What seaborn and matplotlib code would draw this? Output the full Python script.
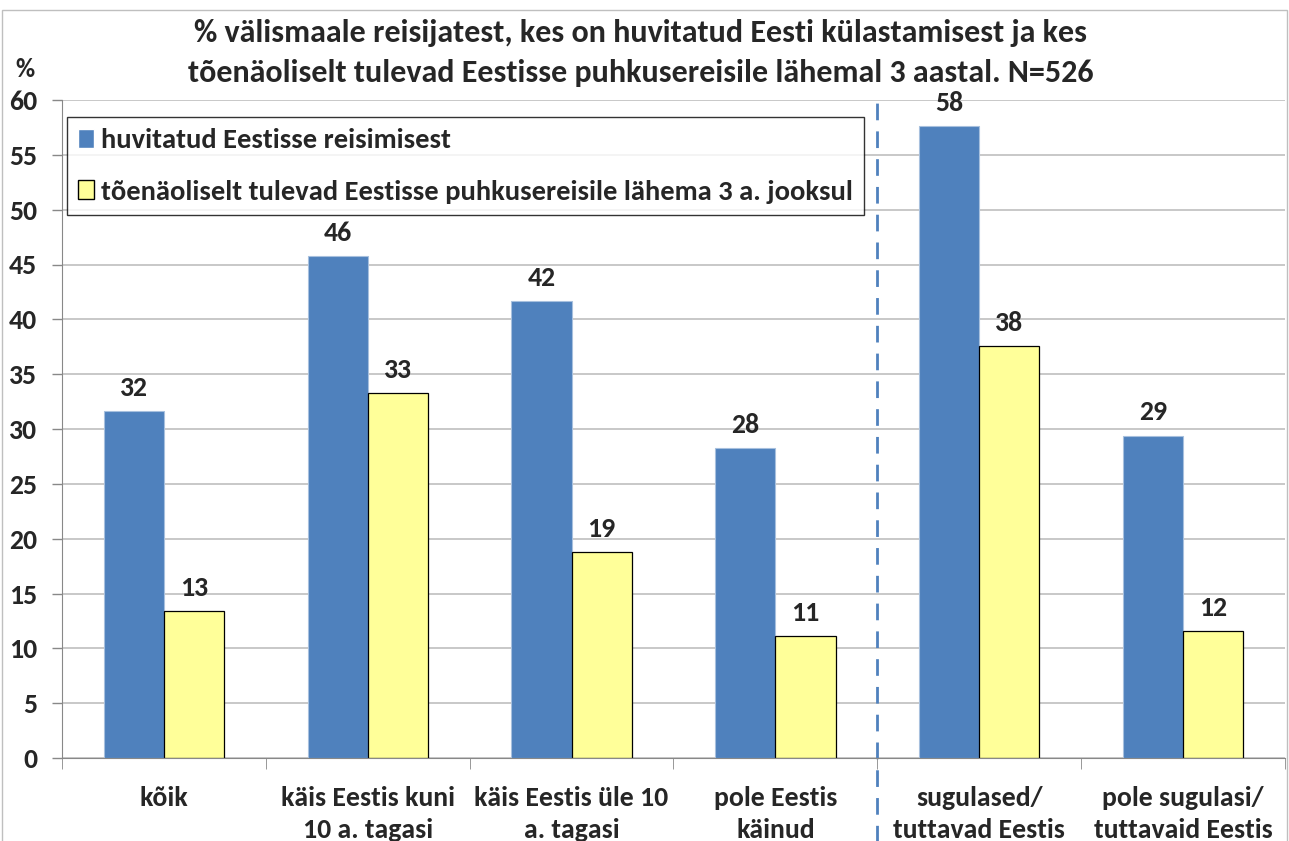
import seaborn as sns
import matplotlib.pyplot as plt
import matplotlib.patches as mpatches
import pandas as pd

# data
categories = ["kõik", "käis Eestis kuni\n10 a. tagasi", "käis Eestis üle 10\na. tagasi",
              "pole Eestis\nkäinud", "sugulased/\ntuttavad Eestis", "pole sugulasi/\ntuttavaid Eestis"]
interested = [31.6, 45.8, 41.7, 28.3, 57.6, 29.4]
likely = [13.4, 33.3, 18.8, 11.1, 37.6, 11.6]
series_names = ["huvitatud Eestisse reisimisest",
                "tõenäoliselt tulevad Eestisse puhkusereisile lähema 3 a. jooksul"]

df = pd.DataFrame({
    "kat": categories * 2,
    "val": interested + likely,
    "seeria": [series_names[0]] * 6 + [series_names[1]] * 6,
})

sns.set_style("white")
plt.rcParams["font.family"] = ["Carlito", "Lato", "DejaVu Sans"]
plt.rcParams["font.weight"] = "bold"

fig = plt.figure(figsize=(12.89, 8.41), dpi=100)
ax = fig.add_axes([62 / 1289, 83 / 841, 1223 / 1289, 658 / 841])

sns.barplot(data=df, x="kat", y="val", hue="seeria", saturation=1,
            palette=["#4F81BD", "#FFFF99"], width=0.59, ax=ax, legend=True)

# yellow bars get a thin black edge, blue ones a light one
for bar in ax.containers[1]:
    bar.set_edgecolor("black")
    bar.set_linewidth(0.9)
for bar in ax.containers[0]:
    bar.set_edgecolor("#A7C0DE")
    bar.set_linewidth(0.8)

for cont in ax.containers:
    ax.bar_label(cont, labels=[f"{round(b.get_height())}" for b in cont],
                 padding=8, fontsize=20, fontweight="bold")

ax.set_ylim(0, 60)
ax.set_xlim(-0.5, 5.5)
ax.set_yticks(range(0, 61, 5))
ax.yaxis.grid(True, color="#BFBFBF", linewidth=1.2)
ax.set_axisbelow(True)
ax.tick_params(axis="y", labelsize=20, length=7, width=1, color="#888888", pad=11, left=True)
ax.tick_params(axis="x", labelsize=20, length=0, pad=20)
ax.set_xticks(range(6))
ax.set_xticklabels(categories, fontweight="bold", linespacing=1.4)
ax.set_xticks([i - 0.5 for i in range(7)], minor=True)
ax.tick_params(axis="x", which="minor", length=8, color="#888888", bottom=True)
for lbl in ax.get_yticklabels():
    lbl.set_fontweight("bold")
ax.set_xlabel("")
ax.set_ylabel("")

for side in ["top", "right"]:
    ax.spines[side].set_visible(False)
ax.spines["left"].set_color("#888888")
ax.spines["bottom"].set_color("#888888")

# separator between the two groups of categories
ax.axvline(3.5, ymin=-0.13, ymax=1, color="#4F81BD", linestyle=(0, (6, 4)),
           linewidth=2, clip_on=False)

leg = ax.legend(loc="upper left", bbox_to_anchor=(0.004, 0.974), borderaxespad=0,
                fontsize=20.5, frameon=True, fancybox=False, edgecolor="black",
                borderpad=0.4, labelspacing=0.95, handlelength=0.55, handleheight=0.6,
                handletextpad=0.25)
for t in leg.get_texts():
    t.set_fontweight("bold")
leg.get_frame().set_linewidth(1)
leg.legend_handles[1].set_edgecolor("black")

# chart area border
fig.patches.append(mpatches.Rectangle((2 / 1289, -0.01), 1285 / 1289, 839 / 841,
                                      transform=fig.transFigure, fill=False,
                                      edgecolor="#BFBFBF", linewidth=1))

fig.text(0.012, 0.908, "%", fontsize=19, fontweight="bold")
fig.suptitle("% välismaale reisijatest, kes on huvitatud Eesti külastamisest ja kes\n"
             "tõenäoliselt tulevad Eestisse puhkusereisile lähemal 3 aastal. N=526",
             x=0.497, y=0.978, fontsize=23, fontweight="bold", linespacing=1.55)

fig.savefig("out.png", dpi=100)
